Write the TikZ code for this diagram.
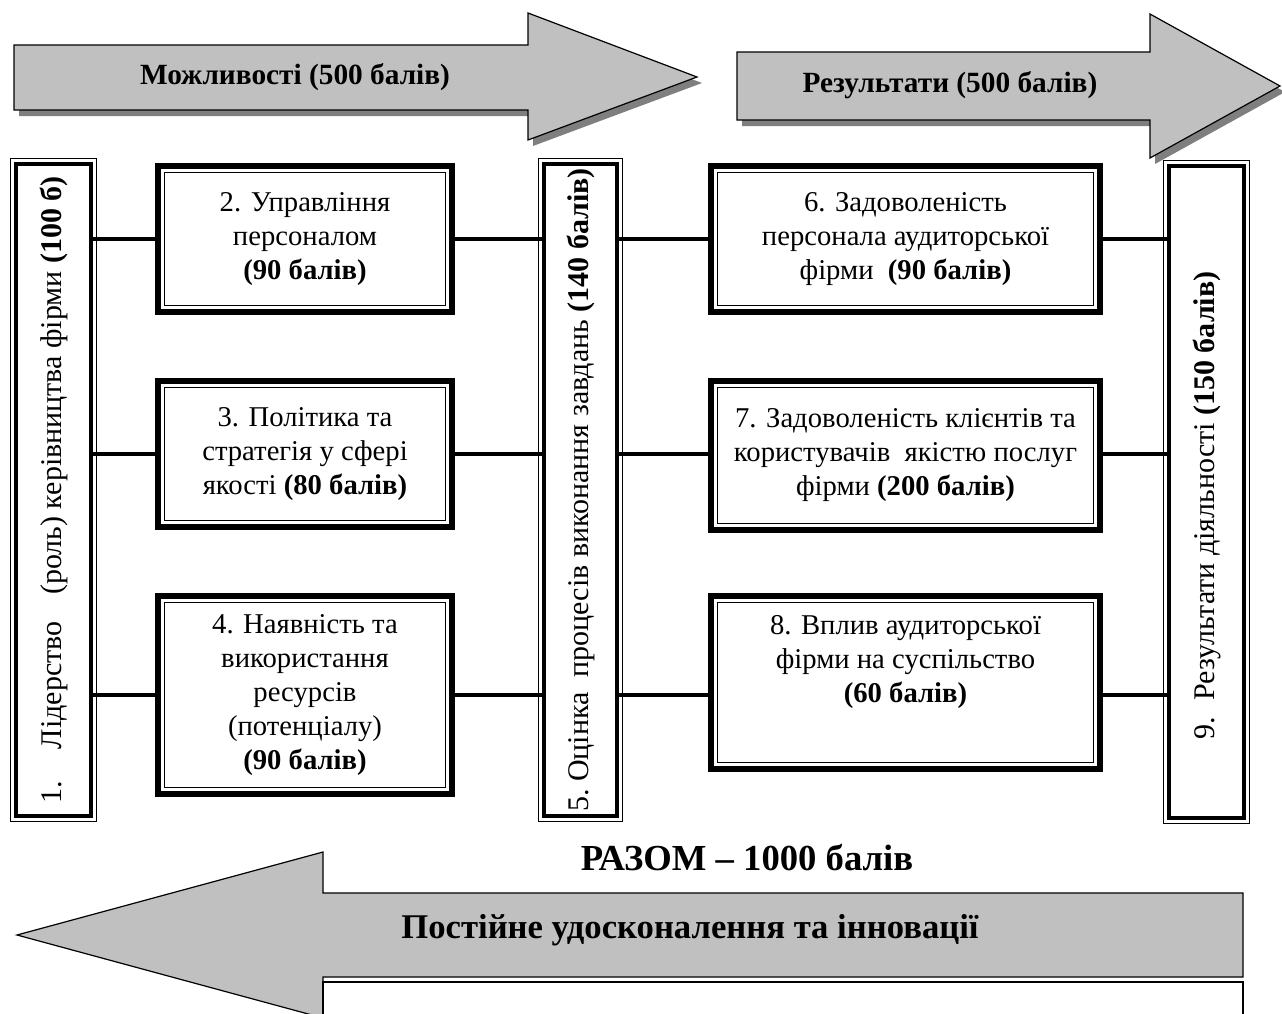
\documentclass[tikz,border=0pt]{standalone}
\usepackage{fontspec}
\setmainfont{Liberation Serif}
\usepackage{tikz}
\usetikzlibrary{calc}
\definecolor{arrowgray}{HTML}{C0C0C0}
\definecolor{shadowgray}{HTML}{7F7F7F}
\def\thickness{4.5pt}
\def\boxfont{\fontsize{21.5}{25.5}\selectfont}
\tikzset{hbox/.style={draw, line width=\thickness, fill=white, align=center,
    inner sep=0pt, outer sep=0pt, minimum width=220.5pt, minimum height=#1,
    font=\boxfont}}
\tikzset{vbox/.style={draw, line width=2.6pt, fill=white,
    inner sep=0pt, outer sep=0pt, minimum width=#1, minimum height=489pt,
    font=\fontsize{22.5}{26}\selectfont}}
\tikzset{link/.style={line width=3.2pt}}
\tikzset{bigarrow/.style={draw, line width=0.9pt, fill=arrowgray, line join=miter}}
\tikzset{arrowtext/.style={font=\bfseries\fontsize{22}{24}\selectfont}}

\begin{document}
\begin{tikzpicture}[x=0.75pt, y=-0.75pt]

\useasboundingbox (0,0) rectangle (1282,1014);

%% top arrows
\fill[shadowgray, shift={(5,6)}] (14,45) -- (528,45) -- (528,13) -- (697,77)
  -- (528,140) -- (528,110) -- (14,110) -- cycle;
\draw[bigarrow] (14,45) -- (528,45) -- (528,13) -- (697,77)
  -- (528,140) -- (528,110) -- (14,110) -- cycle;
\fill[shadowgray, shift={(5,6)}] (737,52) -- (1150,52) -- (1150,14) -- (1280,86)
  -- (1150,158) -- (1150,120) -- (737,120) -- cycle;
\draw[bigarrow] (737,52) -- (1150,52) -- (1150,14) -- (1280,86)
  -- (1150,158) -- (1150,120) -- (737,120) -- cycle;
\node[arrowtext] (can) at (295,77) {Можливості (500 балів)};
\node[arrowtext] (res) at (950,85) {Результати (500 балів)};

%% vertical boxes
\node[vbox=56.25pt] (b1) at (53.5,490)
  {\rotatebox{90}{1.\hspace{24pt}Лідерство\hspace{20pt}(роль) керівництва фірми \textbf{(100 б)}}};
\node[vbox=54.75pt] (b5) at (580.5,490)
  {\rotatebox{90}{5.\ Оцінка\ \ процесів виконання завдань \textbf{(140 балів)}}};
\node[vbox=56.25pt] (b9) at (1206.5,492)
  {\rotatebox{90}{9.\hspace{12pt}Результати діяльності \textbf{(150 балів)}\hspace*{20pt}}};
\foreach \n in {b1,b5,b9}
  \draw[line width=0.6pt] ($(\n.north west)+(-4pt,4pt)$) rectangle ($(\n.south east)+(4pt,-4pt)$);

%% horizontal boxes
\node[hbox=109.5pt] (b2) at (305,239) {2. Управління\\персоналом\\\textbf{(90 балів)}};
\node[hbox=109.5pt] (b3) at (305,454) {3. Політика та\\стратегія у сфері\\якості \textbf{(80 балів)}};
\node[hbox=148.5pt] (b4) at (305,695) {4. Наявність та\\використання\\ресурсів\\(потенціалу)\\\textbf{(90 балів)}};
\node[hbox=109.5pt, minimum width=291.75pt] (b6) at (905.5,239)
  {6. Задоволеність\\персонала аудиторської\\фірми\ \ \textbf{(90 балів)}};
\node[hbox=111.75pt, minimum width=291.75pt] (b7) at (905.5,455.5)
  {7. Задоволеність клієнтів та\\користувачів\ \ якістю послуг\\фірми \textbf{(200 балів)}};
\node[hbox=129.75pt, minimum width=291.75pt] (b8) at (905.5,682.5)
  {8. Вплив аудиторської\\фірми на суспільство\\\textbf{(60 балів)}\\[10pt]};
\foreach \n in {b2,b3,b4,b6,b7,b8}
  \draw[line width=0.6pt] ($(\n.north west)+(5pt,-5pt)$) rectangle ($(\n.south east)+(-5pt,5pt)$);

%% links
\foreach \row/\rbox in {b2/b6, b3/b7, b4/b8} {
  \draw[link] (b1.east |- \row.west) -- (\row.west);
  \draw[link] (\row.east) -- (b5.west |- \row.east);
  \draw[link] (b5.east |- \row.east) -- (\rbox.west |- \row.east);
  \draw[link] (\rbox.east |- \row.east) -- (b9.west |- \row.east);
}

\node[font=\bfseries\fontsize{27.5}{30}\selectfont] (total) at (747,858) {РАЗОМ – 1000 балів};

%% bottom arrow
\draw[bigarrow] (17,935) -- (323,852) -- (323,893) -- (1243,893) -- (1243,977)
  -- (323,977) -- (323,1018) -- cycle;
\draw[fill=white, line width=0.9pt] (323,982) rectangle (1243,1030);
\node[font=\bfseries\fontsize{26}{28}\selectfont] (impr) at (690,930)
  {Постійне удосконалення та інновації};

\end{tikzpicture}
\end{document}
